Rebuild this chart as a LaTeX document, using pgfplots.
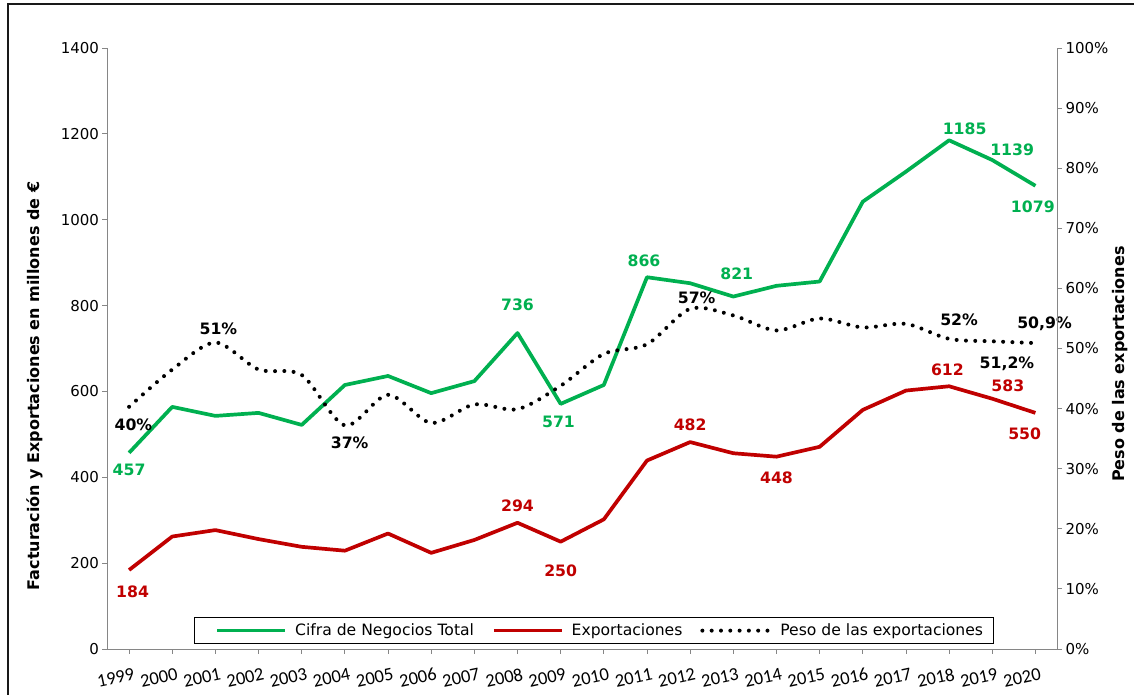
\documentclass[border=0pt]{standalone}
\usepackage{pgfplots}
\pgfplotsset{compat=1.18}
\usepackage{fontspec}
\setmainfont{DejaVu Sans}
\newfontfamily\xfont{Carlito}
\definecolor{cgreen}{HTML}{00B050}
\definecolor{cred}{HTML}{C00000}
\definecolor{axgray}{HTML}{868686}

\pgfplotsset{
  common/.style={
    at={(107.5pt,46pt)}, anchor=south west, scale only axis,
    width=949.5pt, height=601pt, xmin=-0.5, xmax=21.5,
    /pgf/number format/assume math mode=true,
    /pgf/number format/1000 sep={},
    tick align=outside, major tick length=5pt,
    tick style={axgray, line width=0.8pt},
    axis line style={axgray, line width=0.8pt},
    ticklabel style={font=\fontsize{15}{18}\selectfont},
    clip=false,
  }
}

\begin{document}
\begin{tikzpicture}[x=1pt,y=1pt]
\useasboundingbox (0,0) rectangle (1134,695);
\draw[line width=1.3pt, black!90] (8,0) -- (8,691) -- (1134,691);

\begin{axis}[common,
  ymin=0, ymax=1400, ytick={0,200,...,1400},
  axis y line*=left, axis x line*=bottom,
  xtick={0,...,21},
  xticklabels={1999,2000,2001,2002,2003,2004,2005,2006,2007,2008,2009,2010,2011,2012,2013,2014,2015,2016,2017,2018,2019,2020},
  xticklabel style={font=\xfont\fontsize{18.5}{20}\selectfont, rotate=12, anchor=north east, inner sep=0pt, yshift=-14pt, xshift=1pt},
  ylabel={Facturación y Exportaciones en millones de €},
  ylabel style={at={(axis description cs:-0.0763,0.4376)}, rotate=0, anchor=center, font=\bfseries\fontsize{16}{18}\selectfont},
]
\addplot[cgreen, line width=3.7pt, line join=round] coordinates {
(0,457)(1,564)(2,543)(3,550)(4,522)(5,615)(6,636)(7,596)(8,624)(9,736)(10,571)
(11,615)(12,866)(13,852)(14,821)(15,846)(16,856)(17,1042)(18,1112)(19,1185)(20,1139)(21,1079)};
\addplot[cred, line width=3.7pt, line join=round] coordinates {
(0,184)(1,262)(2,277)(3,256)(4,238)(5,229)(6,269)(7,224)(8,254)(9,294)(10,250)
(11,302)(12,439)(13,482)(14,456)(15,448)(16,471)(17,557)(18,602)(19,612)(20,583)(21,550)};

\begin{scope}[every node/.style={font=\bfseries\fontsize{15.7}{18}\selectfont, inner sep=0pt, anchor=center}]
\node[text=cgreen] at (axis cs:0,417) {457};
\node[text=cgreen] at (axis cs:9.0,801) {736};
\node[text=cgreen] at (axis cs:9.95,529) {571};
\node[text=cgreen] at (axis cs:11.93,904) {866};
\node[text=cgreen] at (axis cs:14.08,874) {821};
\node[text=cgreen] at (axis cs:19.36,1211) {1185};
\node[text=cgreen] at (axis cs:20.46,1164) {1139};
\node[text=cgreen] at (axis cs:20.94,1029) {1079};
\node[text=cred] at (axis cs:0.08,133) {184};
\node[text=cred] at (axis cs:9.0,334) {294};
\node[text=cred] at (axis cs:10.0,182) {250};
\node[text=cred] at (axis cs:13.0,523) {482};
\node[text=cred] at (axis cs:15.0,399) {448};
\node[text=cred] at (axis cs:18.96,650) {612};
\node[text=cred] at (axis cs:20.36,613) {583};
\node[text=cred] at (axis cs:20.75,502) {550};
\node at (axis cs:0.1,522) {40\%};
\node at (axis cs:2.07,745) {51\%};
\node at (axis cs:5.11,481) {37\%};
\node at (axis cs:13.15,818) {57\%};
\node at (axis cs:19.23,766) {52\%};
\node at (axis cs:21.21,757) {50,9\%};
\node at (axis cs:20.34,665) {51,2\%};
\end{scope}
\end{axis}

\begin{axis}[common,
  ymin=0, ymax=100, ytick={0,10,...,100},
  yticklabel={\pgfmathprintnumber{\tick}\%},
  axis y line*=right, axis x line=none,
  ylabel={Peso de las exportaciones},
  ylabel style={at={(axis description cs:1.0663,0.474)}, rotate=0, anchor=center, font=\bfseries\fontsize{16}{18}\selectfont},
  legend columns=3,
  legend image code/.code={\path (-11pt,0pt); \draw[#1] (0pt,0pt) -- (68pt,0pt);},
  legend style={at={(0.0911,0.0078)}, anchor=south west, draw=black, line width=1pt,
    font=\fontsize{15.6}{18}\selectfont, inner xsep=10pt, inner ysep=6.5pt,
    nodes={inner sep=0pt},
    /tikz/every even column/.append style={column sep=7pt},
    /tikz/every odd column/.append style={column sep=8pt}},
]
\addlegendimage{cgreen, line width=3.7pt}
\addlegendentry{Cifra de Negocios Total}
\addlegendimage{cred, line width=3.7pt}
\addlegendentry{Exportaciones}
\addplot[black, line width=4pt, line cap=round, dash pattern=on 0pt off 9.3pt, smooth] coordinates {
(0,40.3)(1,46.5)(2,51.0)(3,46.5)(4,45.6)(5,37.2)(6,42.3)(7,37.6)(8,40.7)(9,39.9)(10,43.8)
(11,49.1)(12,50.7)(13,56.6)(14,55.5)(15,53.0)(16,55.0)(17,53.5)(18,54.1)(19,51.6)(20,51.2)(21,50.9)};
\addlegendentry{Peso de las exportaciones}
\end{axis}
\end{tikzpicture}
\end{document}
